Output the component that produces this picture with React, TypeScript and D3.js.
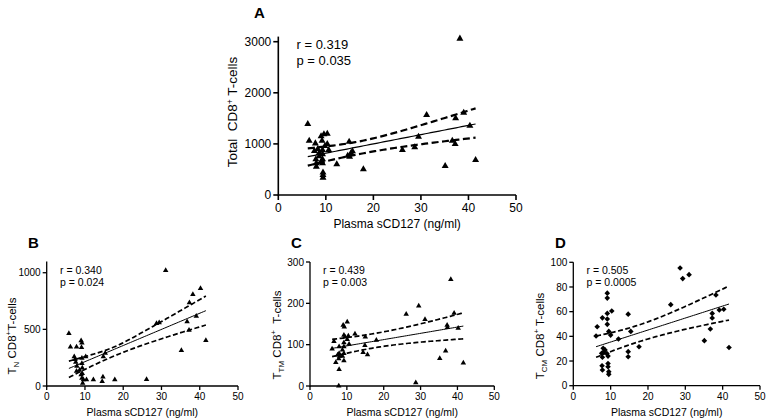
import React from "react";
import * as d3 from "d3";

const FONT = '"Liberation Sans", Arial, Helvetica, sans-serif';

const xTickValues = [0, 10, 20, 30, 40, 50];

// ---------- Panel A : Total CD8+ T-cells ----------
const aX = [26.1, 28.7, 29.5, 31.2, 35.1, 36.6, 37.2, 37.3, 38.2, 39.0, 40.3, 41.5,
  12.3, 14.9, 14.6, 15.0, 15.3, 15.6, 17.9,
  6.2, 6.5, 7.6, 7.8, 7.9, 8.0, 8.0, 8.3, 8.6, 9.0, 9.2, 9.3, 9.3, 9.3, 9.3, 9.4, 9.4, 9.4, 9.6, 9.8, 10.3, 10.3, 10.6, 9.0, 8.6];
const aY = [880, 933, 1141, 1565, 568, 1063, 998, 1500, 3060, 1610, 1356, 685,
  601, 1044, 770, 750, 820, 855, 503,
  1390, 1063, 860, 1010, 700, 620, 555, 900, 760, 1150, 1060, 880, 800, 700, 620, 440, 390, 340, 1190, 960, 1200, 1000, 880, 650, 820];
const aYTicks = [0, 1000, 2000, 3000];
const aFit = [750, 1390];
const aUpper = [913, 1696];
const aLower = [574, 1122];
const aStats = ["r = 0.319", "p = 0.035"];

// ---------- Panel B : TN CD8+ T-cells ----------
const bX = [26.1, 28.7, 29.4, 31.1, 35.2, 36.7, 37.2, 37.3, 38.2, 39.1, 40.2, 41.6,
  5.8, 6.2, 7.8, 9.0, 9.2, 9.1, 7.2, 7.4, 7.6, 7.9, 7.8, 9.2, 9.2, 9.3, 9.3, 9.2, 9.4, 9.0, 10.2, 10.4, 12.2, 14.5, 14.7, 14.8, 15.3, 17.8, 9.6, 8.6];
const bY = [59, 553, 560, 1020, 315, 567, 494, 735, 808, 617, 861, 403,
  465, 345, 345, 400, 380, 340, 260, 235, 210, 175, 130, 245, 200, 160, 110, 70, 25, 100, 260, 55, 55, 40, 80, 260, 290, 55, 55, 140];
const bYTicks = [0, 500, 1000];
const bFit = [155, 665];
const bUpper = [220, 794];
const bLower = [75, 538];
const bStats = ["r = 0.340", "p = 0.024"];

// ---------- Panel C : TTM CD8+ T-cells ----------
const cX = [26.1, 28.7, 29.5, 31.2, 35.2, 36.8, 37.2, 37.3, 38.2, 39.1, 40.2, 41.6,
  6.0, 6.5, 7.0, 7.5, 7.8, 7.9, 7.9, 8.0, 7.9, 7.8, 8.8, 8.8, 9.0, 9.3, 9.2, 9.5, 9.2, 9.2, 9.2, 9.2, 10.1, 10.4, 10.1, 10.6, 12.2, 15.0, 14.9, 14.4, 15.6, 18.0];
const cY = [174, 8, 194, 161, 67, 85, 147, 142, 258, 176, 140, 56,
  90, 108, 57, 75, 66, 95, 79, 72, 40, 0, 72, 87, 147, 143, 123, 119, 105, 95, 79, 61, 155, 121, 113, 101, 126, 119, 98, 81, 76, 111];
const cYTicks = [0, 100, 200, 300];
const cFit = [91, 145];
const cUpper = [113, 177];
const cLower = [71, 114];
const cStats = ["r = 0.439", "p = 0.003"];

// ---------- Panel D : TCM CD8+ T-cells ----------
const dX = [26.1, 28.6, 29.3, 31.0, 35.1, 36.7, 37.2, 37.2, 38.2, 39.1, 40.3, 41.7,
  6.1, 6.4, 7.8, 9.1, 9.1, 9.1, 9.1, 9.1, 10.3, 9.5, 10.0, 12.1, 14.7, 15.4, 14.7, 14.7, 17.6, 8.0, 8.2, 7.6, 7.8, 9.0, 9.3, 7.7, 7.8, 9.3, 9.3, 9.5, 9.5, 8.5];
const dY = [65.7, 95.4, 86.8, 90, 36.5, 46, 58.6, 54.9, 73.5, 61.4, 61.9, 31,
  40.3, 47.8, 55, 75, 71, 58.6, 54, 49.7, 60.5, 44, 41, 37.8, 58, 44, 27.6, 23.5, 31.6, 30.3, 27.6, 26.2, 23, 26, 24, 16.2, 12.7, 18, 15.4, 11.4, 9.2, 29];
const dYTicks = [0, 20, 40, 60, 80, 100];
const dFit = [31.6, 66.2];
const dUpper = [40.3, 80.8];
const dLower = [23, 53.2];
const dStats = ["r = 0.505", "p = 0.0005"];

const xAxisTitle = "Plasma sCD127 (ng/ml)";

type PanelProps = {
  xs: number[]; ys: number[]; yTicks: number[]; yMax: number;
  fit: number[]; upper: number[]; lower: number[]; stats: string[];
  box: { x0: number; x1: number; y0: number; y1: number };
  tickFont: number; labelFont: number; yLabelFont: number; statFont: number; letterFont: number;
  symbol: d3.SymbolType; symSize: number;
  letter: string; letterPos: [number, number];
  statsPos: [number, number, number];
  yLabel: React.ReactNode; yLabelPos: [number, number];
  xLabelY: number; xTickY: number;
  axisW: number; lineW: number; dashW: number; dash: string; tickLen: number;
};

function Panel(p: PanelProps) {
  const x = d3.scaleLinear().domain([0, 50]).range([p.box.x0, p.box.x1]);
  const y = d3.scaleLinear().domain([0, p.yMax]).range([p.box.y0, p.box.y1]);
  const xmin = d3.min(p.xs) as number;
  const xmax = d3.max(p.xs) as number;
  const xm = d3.mean(p.xs) as number;
  const fitAt = (v: number) => p.fit[0] + ((p.fit[1] - p.fit[0]) * (v - xmin)) / (xmax - xmin);
  const bandFn = (ends: number[]) => {
    const oL = ends[0] - p.fit[0];
    const oR = ends[1] - p.fit[1];
    const s = Math.sign(oL || oR);
    const dl = xmin - xm, dr = xmax - xm;
    const k2 = Math.max(0, (oR * oR - oL * oL) / (dr * dr - dl * dl));
    const h02 = Math.max(0, oL * oL - k2 * dl * dl);
    return (v: number) => fitAt(v) + s * Math.sqrt(h02 + k2 * (v - xm) ** 2);
  };
  const samples = d3.range(0, 61).map((i) => xmin + ((xmax - xmin) * i) / 60);
  const line = d3.line<number[]>().x((d) => x(d[0])).y((d) => y(d[1]));
  const up = bandFn(p.upper);
  const lo = bandFn(p.lower);
  const sym = d3.symbol().type(p.symbol).size(p.symSize)();
  const midX = (p.box.x0 + p.box.x1) / 2;

  return (
    <g fontFamily={FONT} fill="#000">
      <text x={p.letterPos[0]} y={p.letterPos[1]} fontSize={p.letterFont} fontWeight="bold">{p.letter}</text>
      {/* axes */}
      <line x1={x(0)} x2={x(0)} y1={y(0) + p.axisW / 2} y2={y(p.yMax)} stroke="#000" strokeWidth={p.axisW} />
      <line x1={x(0)} x2={x(50)} y1={y(0)} y2={y(0)} stroke="#000" strokeWidth={p.axisW} />
      {p.yTicks.map((t) => (
        <g key={"y" + t}>
          <line x1={x(0) - p.tickLen} x2={x(0)} y1={y(t)} y2={y(t)} stroke="#000" strokeWidth={p.axisW} />
          <text x={x(0) - p.tickLen - 2} y={y(t)} dy="0.36em" textAnchor="end" fontSize={p.tickFont}>{t}</text>
        </g>
      ))}
      {xTickValues.map((t) => (
        <g key={"x" + t}>
          <line x1={x(t)} x2={x(t)} y1={y(0)} y2={y(0) + p.tickLen} stroke="#000" strokeWidth={p.axisW} />
          <text x={x(t)} y={p.xTickY} textAnchor="middle" fontSize={p.tickFont}>{t}</text>
        </g>
      ))}
      <text x={midX} y={p.xLabelY} textAnchor="middle" fontSize={p.labelFont}>{xAxisTitle}</text>
      <text transform={`translate(${p.yLabelPos[0]},${p.yLabelPos[1]}) rotate(-90)`} textAnchor="middle" fontSize={p.yLabelFont} style={{ whiteSpace: "pre" }}>{p.yLabel}</text>
      {/* stats */}
      <text x={p.statsPos[0]} y={p.statsPos[1]} fontSize={p.statFont}>{p.stats[0]}</text>
      <text x={p.statsPos[0]} y={p.statsPos[2]} fontSize={p.statFont}>{p.stats[1]}</text>
      {/* regression + 95% band */}
      <path d={line(samples.map((v) => [v, fitAt(v)])) || ""} fill="none" stroke="#000" strokeWidth={p.lineW} />
      <path d={line(samples.map((v) => [v, up(v)])) || ""} fill="none" stroke="#000" strokeWidth={p.dashW} strokeDasharray={p.dash} />
      <path d={line(samples.map((v) => [v, lo(v)])) || ""} fill="none" stroke="#000" strokeWidth={p.dashW} strokeDasharray={p.dash} />
      {/* points */}
      {p.xs.map((v, i) => (
        <path key={i} d={sym || ""} transform={`translate(${x(v)},${y(p.ys[i])})`} fill="#000" />
      ))}
    </g>
  );
}

function YLab({ main, sub, rest, sup, tail, subSize }: { main: string; sub?: string; rest: string; sup: string; tail: string; subSize: number }) {
  return (
    <>
      <tspan>{main}</tspan>
      {sub ? <tspan dy={3} fontSize={subSize}>{sub}</tspan> : null}
      <tspan dy={sub ? -3 : 0}>{rest}</tspan>
      <tspan dy={-4.5} fontSize={subSize}>{sup}</tspan>
      <tspan dy={4.5}>{tail}</tspan>
    </>
  );
}

export default function App() {
  const small = {
    tickFont: 10, labelFont: 10.5, yLabelFont: 11.5, statFont: 10.5, letterFont: 15,
    symSize: 13, axisW: 1.3, lineW: 1, dashW: 1.7, dash: "5,2.5", tickLen: 4,
    xTickY: 400,
  };
  return (
    <svg width={771} height={420} style={{ position: "absolute", left: 0, top: 0, background: "#fff" }}>
      <rect x={0} y={0} width={771} height={420} fill="#fff" />
      <Panel
        xs={aX} ys={aY} yTicks={aYTicks} yMax={3100} fit={aFit} upper={aUpper} lower={aLower} stats={aStats}
        box={{ x0: 278.3, x1: 516, y0: 195, y1: 36.6 }}
        tickFont={12} labelFont={12} yLabelFont={13.5} statFont={13} letterFont={15}
        symbol={d3.symbolTriangle} symSize={21}
        letter="A" letterPos={[254, 18]} statsPos={[296.5, 49, 65]}
        yLabel={<YLab main="Total  CD8" rest="" sup="+" tail=" T-cells" subSize={8.5} />}
        yLabelPos={[237, 112]} xLabelY={228} xTickY={212}
        axisW={1.6} lineW={1.2} dashW={2.2} dash="7,3.5" tickLen={5}
      />
      <Panel
        {...small}
        xs={bX} ys={bY} yTicks={bYTicks} yMax={1100} fit={bFit} upper={bUpper} lower={bLower} stats={bStats}
        box={{ x0: 46.7, x1: 238, y0: 386, y1: 261.4 }}
        symbol={d3.symbolTriangle}
        letter="B" letterPos={[28, 248]} statsPos={[60, 274, 285.5]}
        yLabel={<YLab main="T" sub="N" rest=" CD8" sup="+" tail="T-cells" subSize={8} />}
        yLabelPos={[15.5, 336]} xLabelY={415.5}
      />
      <Panel
        {...small}
        xs={cX} ys={cY} yTicks={cYTicks} yMax={300} fit={cFit} upper={cUpper} lower={cLower} stats={cStats}
        box={{ x0: 310, x1: 494.3, y0: 386, y1: 262 }}
        symbol={d3.symbolTriangle}
        letter="C" letterPos={[291, 248]} statsPos={[323, 274, 285.5]}
        yLabel={<YLab main="T" sub="TM" rest=" CD8" sup="+" tail="  T-cells" subSize={8} />}
        yLabelPos={[280.5, 335]} xLabelY={415.5}
      />
      <Panel
        {...small}
        xs={dX} ys={dY} yTicks={dYTicks} yMax={100} fit={dFit} upper={dUpper} lower={dLower} stats={dStats}
        box={{ x0: 573.3, x1: 760, y0: 385.7, y1: 262.3 }}
        symbol={d3.symbolDiamond2} symSize={20}
        letter="D" letterPos={[555, 248]} statsPos={[586.5, 274, 285.5]}
        yLabel={<YLab main="T" sub="CM" rest=" CD8" sup="+" tail=" T-cells" subSize={8} />}
        yLabelPos={[543.5, 336]} xLabelY={415.5}
      />
    </svg>
  );
}
